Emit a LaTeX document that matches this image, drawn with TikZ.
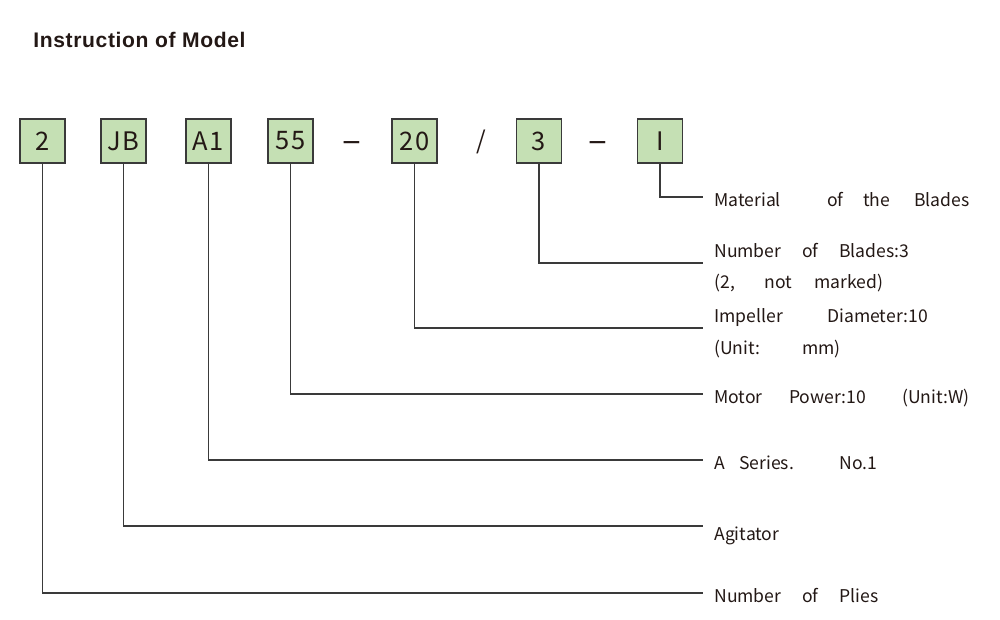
\documentclass[tikz,border=0pt]{standalone}
\usepackage{fontspec}
\newfontfamily\cjk{Noto Sans CJK SC}
\newfontfamily\boxfont[LetterSpace=6]{Noto Sans CJK SC}
\newfontfamily\sepfont{Noto Sans CJK SC}
\newfontfamily\titlefont[LetterSpace=3]{Liberation Sans}
\newlength\pxu
\setlength\pxu{0.2mm}
\newcommand\wbox[2]{\makebox[#1\pxu][l]{#2}}
\definecolor{boxgreen}{HTML}{C5E0B4}
\definecolor{ink}{HTML}{231815}
\definecolor{linegray}{HTML}{3A3A3A}
\tikzset{
  codebox/.style={draw=linegray, fill=boxgreen, line width=0.9pt, minimum width=0.9cm, minimum height=0.88cm, inner sep=0pt, text=ink, font=\boxfont\fontsize{14.5pt}{16pt}\selectfont},
  sep/.style={inner sep=0pt, text=ink, font=\sepfont\fontsize{14pt}{16pt}\selectfont},
  dashsep/.style={inner sep=0pt, text=ink, font=\sepfont\fontsize{20pt}{22pt}\selectfont},
  lbl/.style={anchor=base west, inner sep=0pt, text=ink, font=\cjk\fontsize{10pt}{12pt}\selectfont},
  conn/.style={draw=linegray, line width=0.85pt},
  title/.style={anchor=base west, inner sep=0pt, text=ink, font=\titlefont\bfseries\fontsize{12pt}{14pt}\selectfont}
}
\begin{document}
\begin{tikzpicture}[x=0.02cm,y=-0.02cm]
\useasboundingbox (0,0) rectangle (1000,619);
\node[title] (t) at (33,47) {Instruction of Model};
% code boxes
\node[codebox] (b1) at (42.5,141) {2};
\node[codebox] (b2) at (123.5,141) {JB};
\node[codebox] (b3) at (208.5,141) {A1};
\node[codebox] (b4) at (290.5,141) {55};
\node[codebox] (b5) at (414.5,141) {20};
\node[codebox] (b6) at (539,141) {3};
\node[codebox] (b7) at (660,141) {I};
% separators
\node[dashsep] (s1) at (352,147) {–};
\node[sep] (s2) at (481,142) {/};
\node[dashsep] (s3) at (598,147) {–};
% labels
\node[lbl] (l1) at (714,206) {\wbox{113}{Material}\wbox{36}{of}\wbox{51}{the}Blades};
\node[lbl] (l2) at (714,257) {\wbox{88}{Number}\wbox{37}{of}Blades:3};
\node[lbl] (l2b) at (714,288) {\wbox{50}{(2,}\wbox{50}{not}marked)};
\node[lbl] (l3) at (714,322) {\wbox{113}{Impeller}Diameter:10};
\node[lbl] (l3b) at (714,354) {\wbox{88}{(Unit:}mm)};
\node[lbl] (l4) at (714,403) {\wbox{75}{Motor}\wbox{113}{Power:10}(Unit:W)};
\node[lbl] (l5) at (714,469) {\wbox{25}{A}\wbox{100}{Series.}No.1};
\node[lbl] (l6) at (714,540) {Agitator};
\node[lbl] (l7) at (714,602) {\wbox{88}{Number}\wbox{37}{of}Plies};
% connector ends
\coordinate (e1) at (703,197);
\coordinate (e2) at (703,263);
\coordinate (e3) at (703,328);
\coordinate (e4) at (703,394);
\coordinate (e5) at (703,460);
\coordinate (e6) at (703,526);
\coordinate (e7) at (703,593);
\draw[conn] (b7.south) |- (e1);
\draw[conn] (b6.south) |- (e2);
\draw[conn] (b5.south) |- (e3);
\draw[conn] (b4.south) |- (e4);
\draw[conn] (b3.south) |- (e5);
\draw[conn] (b2.south) |- (e6);
\draw[conn] (b1.south) |- (e7);
\end{tikzpicture}
\end{document}
